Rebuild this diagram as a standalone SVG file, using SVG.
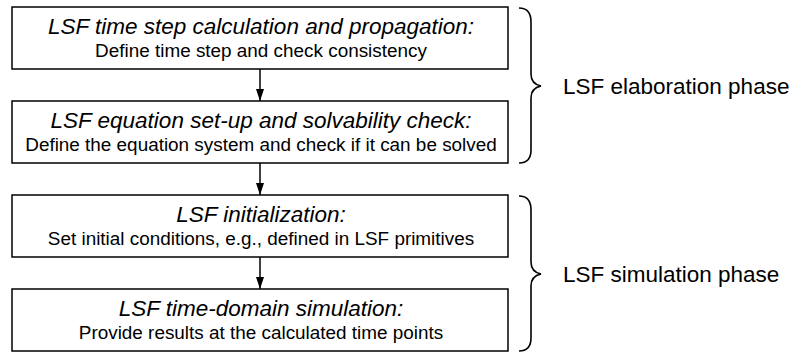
<svg xmlns="http://www.w3.org/2000/svg" width="794" height="353" viewBox="0 0 794 353">
<style>
.box{fill:#fff;stroke:#000;stroke-width:1.5}
.t{font-family:"Liberation Sans",Arial,sans-serif;font-style:italic;font-size:22.5px;fill:#000;text-anchor:middle}
.s{font-family:"Liberation Sans",Arial,sans-serif;font-size:18.9px;fill:#000;text-anchor:middle}
.lbl{font-family:"Liberation Sans",Arial,sans-serif;font-size:22.5px;fill:#000}
.conn{stroke:#000;stroke-width:1.5;fill:none}
.brace{stroke:#000;stroke-width:1.6;fill:none}
</style>
<defs>
<marker id="ah" viewBox="0 0 12 10" refX="12" refY="5" markerWidth="12" markerHeight="10" markerUnits="userSpaceOnUse" orient="auto">
<path d="M0,1 L12,5 L0,9 Z" fill="#000"/>
</marker>
</defs>
<rect width="794" height="353" fill="#fff"/>
<g id="connectors">
<line class="conn" x1="260" y1="69" x2="260" y2="101" marker-end="url(#ah)"/>
<line class="conn" x1="260" y1="163" x2="260" y2="195" marker-end="url(#ah)"/>
<line class="conn" x1="260" y1="257" x2="260" y2="289" marker-end="url(#ah)"/>
</g>
<g id="n1">
<rect class="box" x="12" y="7" width="496" height="62"/>
<text class="t" x="261" y="34">LSF time step calculation and propagation:</text>
<text class="s" x="261" y="57">Define time step and check consistency</text>
</g>
<g id="n2">
<rect class="box" x="12" y="101" width="496" height="62"/>
<text class="t" x="261" y="128">LSF equation set-up and solvability check:</text>
<text class="s" x="261" y="151">Define the equation system and check if it can be solved</text>
</g>
<g id="n3">
<rect class="box" x="12" y="195" width="496" height="62"/>
<text class="t" x="261" y="222">LSF initialization:</text>
<text class="s" x="261" y="245">Set initial conditions, e.g., defined in LSF primitives</text>
</g>
<g id="n4">
<rect class="box" x="12" y="289" width="496" height="62"/>
<text class="t" x="261" y="316">LSF time-domain simulation:</text>
<text class="s" x="261" y="339">Provide results at the calculated time points</text>
</g>
<g id="brace1">
<path class="brace" d="M519,8 Q531,8 531,22 L531,74 Q531,84 541,86 Q531,88 531,98 L531,150 Q531,163 519,163"/>
<text class="lbl" x="563" y="94">LSF elaboration phase</text>
</g>
<g id="brace2">
<path class="brace" d="M519,196 Q531,196 531,210 L531,262 Q531,272 541,274 Q531,276 531,286 L531,338 Q531,351 519,351"/>
<text class="lbl" x="563" y="282">LSF simulation phase</text>
</g>
</svg>
